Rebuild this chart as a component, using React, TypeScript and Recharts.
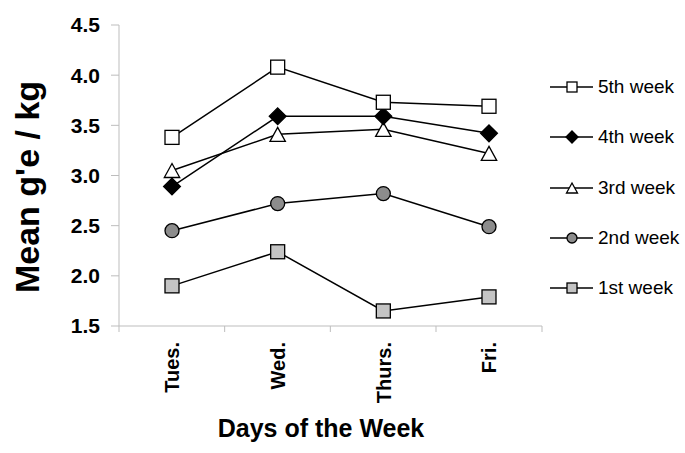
import { Line, LineChart, XAxis, YAxis } from "recharts";

const days = ["Tues.", "Wed.", "Thurs.", "Fri."];
const week1 = [1.9, 2.24, 1.65, 1.79];
const week2 = [2.45, 2.72, 2.82, 2.49];
const week3 = [3.05, 3.41, 3.46, 3.22];
const week4 = [2.89, 3.59, 3.59, 3.42];
const week5 = [3.38, 4.08, 3.73, 3.69];
const yTicks = [1.5, 2.0, 2.5, 3.0, 3.5, 4.0, 4.5];

type Shape = "square" | "diamond" | "triangle" | "circle";

type Series = { key: string; label: string; shape: Shape; fill: string };

// legend order, top to bottom
const series: Series[] = [
  { key: "w5", label: "5th week", shape: "square", fill: "#ffffff" },
  { key: "w4", label: "4th week", shape: "diamond", fill: "#000000" },
  { key: "w3", label: "3rd week", shape: "triangle", fill: "#ffffff" },
  { key: "w2", label: "2nd week", shape: "circle", fill: "#8c8c8c" },
  { key: "w1", label: "1st week", shape: "square", fill: "#c4c4c4" },
];

const data = days.map((day, i) => ({
  day,
  w1: week1[i],
  w2: week2[i],
  w3: week3[i],
  w4: week4[i],
  w5: week5[i],
}));

const FONT = "'Liberation Sans', Arial, sans-serif";
const AXIS_GRAY = "#bdbdbd";
// half of one category slot; also used as the x-axis padding so points sit mid-slot
const HALF_SLOT = 53;
const TICK_MARGIN = 16;

function Marker({ cx, cy, shape, fill, size }: { cx: number; cy: number; shape: Shape; fill: string; size: number }) {
  const h = size / 2;
  const common = { fill, stroke: "#000", strokeWidth: 1.3 };
  if (shape === "square") {
    return <rect x={cx - h} y={cy - h} width={size} height={size} {...common} />;
  }
  if (shape === "circle") {
    return <circle cx={cx} cy={cy} r={h} {...common} />;
  }
  if (shape === "diamond") {
    const d = h * 1.2;
    return <polygon points={`${cx},${cy - d} ${cx + d},${cy} ${cx},${cy + d} ${cx - d},${cy}`} {...common} />;
  }
  const w = h * 1.1;
  return <polygon points={`${cx},${cy - h} ${cx + w},${cy + h} ${cx - w},${cy + h}`} {...common} />;
}

// rotated day label plus the slot-boundary tick marks (Excel style)
function DayTick({ x = 0, y = 0, payload, index }: { x?: number; y?: number; payload?: { value: string }; index?: number }) {
  const axisY = y - TICK_MARGIN;
  const isLast = index === days.length - 1;
  return (
    <g>
      <line x1={x - HALF_SLOT} y1={axisY} x2={x - HALF_SLOT} y2={axisY + 6} stroke={AXIS_GRAY} />
      {isLast && <line x1={x + HALF_SLOT} y1={axisY} x2={x + HALF_SLOT} y2={axisY + 6} stroke={AXIS_GRAY} />}
      <text
        x={x}
        y={y}
        transform={`rotate(-90 ${x} ${y})`}
        textAnchor="end"
        dy="0.36em"
        fontFamily={FONT}
        fontWeight="bold"
        fontSize={20}
        fill="#000"
      >
        {payload?.value}
      </text>
    </g>
  );
}

function WeekLegend() {
  return (
    <div style={{ position: "absolute", left: 548, top: 62, fontFamily: FONT, fontSize: 19, color: "#000" }}>
      {series.map((s) => (
        <div key={s.key} style={{ height: 50.3, display: "flex", alignItems: "center" }}>
          <svg width={50} height={22} style={{ display: "block" }}>
            <line x1={2} y1={11} x2={45} y2={11} stroke="#000" strokeWidth={1.3} />
            <Marker cx={24} cy={11} shape={s.shape} fill={s.fill} size={10} />
          </svg>
          <span>{s.label}</span>
        </div>
      ))}
    </div>
  );
}

export default function App() {
  return (
    <div style={{ position: "absolute", left: 0, top: 0, width: 685, height: 453, background: "#fff" }}>
      <LineChart width={685} height={453} data={data} margin={{ top: 25, right: 143, bottom: 0, left: 0 }}>
        <XAxis
          dataKey="day"
          tick={<DayTick />}
          tickLine={false}
          tickSize={0}
          tickMargin={TICK_MARGIN}
          axisLine={{ stroke: AXIS_GRAY }}
          padding={{ left: HALF_SLOT, right: HALF_SLOT }}
          interval={0}
          height={127}
          label={{
            content: () => (
              <text x={321} y={437} textAnchor="middle" fontFamily={FONT} fontWeight="bold" fontSize={25} fill="#000">
                Days of the Week
              </text>
            ),
          }}
        />
        <YAxis
          domain={[1.5, 4.5]}
          ticks={yTicks}
          tickFormatter={(v: number) => v.toFixed(1)}
          width={119}
          tickSize={8}
          tickMargin={11}
          axisLine={{ stroke: AXIS_GRAY }}
          tickLine={{ stroke: AXIS_GRAY }}
          tick={{ fontFamily: FONT, fontWeight: "bold", fontSize: 21, fill: "#000" }}
          label={{
            content: () => (
              <text
                x={27}
                y={187}
                transform="rotate(-90 27 187)"
                textAnchor="middle"
                dy="0.36em"
                fontFamily={FONT}
                fontWeight="bold"
                fontSize={34}
                fill="#000"
              >
                Mean g'e / kg
              </text>
            ),
          }}
        />
        {series
          .slice()
          .reverse()
          .map((s) => (
            <Line
              key={s.key}
              dataKey={s.key}
              name={s.label}
              stroke="#000"
              strokeWidth={1.5}
              isAnimationActive={false}
              dot={(p: { cx?: number; cy?: number; index?: number }) => (
                <Marker key={`${s.key}-${p.index}`} cx={p.cx ?? 0} cy={p.cy ?? 0} shape={s.shape} fill={s.fill} size={14} />
              )}
              activeDot={false}
            />
          ))}
      </LineChart>
      <WeekLegend />
    </div>
  );
}
